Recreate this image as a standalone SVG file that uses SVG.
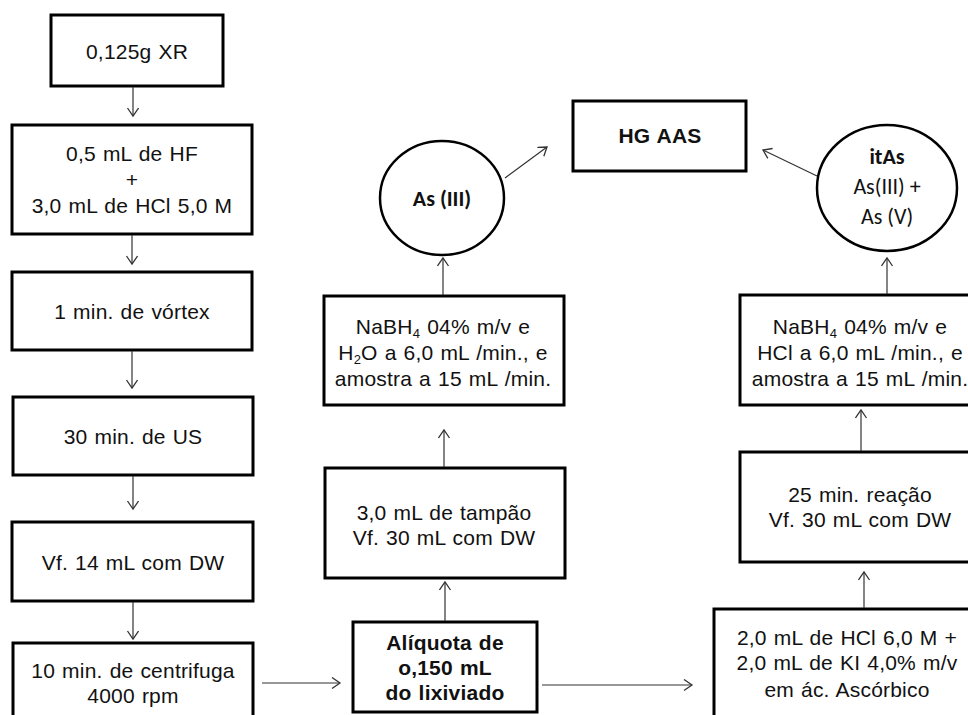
<svg xmlns="http://www.w3.org/2000/svg" width="968" height="715" viewBox="0 0 968 715">
<style>
.box{fill:#fff;stroke:#000;stroke-width:3}
.circ{fill:#fff;stroke:#000;stroke-width:2.5}
.t{font-family:"Liberation Sans",Arial,sans-serif;font-size:21px;fill:#111;text-anchor:middle;letter-spacing:0.2px;word-spacing:1px}
.b{font-weight:bold}
.c{font-family:Carlito,Lato,"Liberation Sans",sans-serif;font-size:22px;fill:#111;text-anchor:middle}
.sub{font-size:13px}
.conn line{stroke:#333;stroke-width:1.2;fill:none;marker-end:url(#ah)}
</style>
<defs>
<marker id="ah" markerUnits="userSpaceOnUse" markerWidth="12" markerHeight="14" refX="9" refY="6" orient="auto">
<path d="M1,0.5 L9,6 L1,11.5" fill="none" stroke="#333" stroke-width="1.3"/>
</marker>
</defs>
<rect width="968" height="715" fill="#fff"/>
<g id="n1"><rect class="box" x="51" y="15" width="172" height="71"/><text class="t" x="137" y="59">0,125g XR</text></g>
<g id="n2"><rect class="box" x="12" y="125" width="240" height="109"/><text class="t" x="132" y="161">0,5 mL de HF</text><text class="t" x="132" y="187">+</text><text class="t" x="132" y="213">3,0 mL de HCl  5,0 M</text></g>
<g id="n3"><rect class="box" x="12" y="272" width="240" height="78"/><text class="t" x="132" y="319">1 min. de vórtex</text></g>
<g id="n4"><rect class="box" x="13" y="397" width="240" height="78"/><text class="t" x="133" y="444">30 min. de US</text></g>
<g id="n5"><rect class="box" x="12" y="522" width="241" height="79"/><text class="t" x="133" y="570">Vf. 14 mL com DW</text></g>
<g id="n6"><rect class="box" x="13" y="643" width="240" height="100"/><text class="t" x="133" y="678">10 min. de centrifuga</text><text class="t" x="133" y="703">4000 rpm</text></g>
<g id="n7"><rect class="box" x="353" y="622" width="184" height="90"/><text class="t b" x="445" y="650">Alíquota de</text><text class="t b" x="445" y="675">o,150 mL</text><text class="t b" x="445" y="700">do lixiviado</text></g>
<g id="n8"><rect class="box" x="325" y="468" width="240" height="110"/><text class="t" x="444" y="520">3,0 mL de tampão</text><text class="t" x="444" y="545">Vf. 30 mL com DW</text></g>
<g id="n9"><rect class="box" x="324" y="296" width="240" height="109"/><text class="t" x="443" y="334">NaBH<tspan class="sub" dy="4">4</tspan><tspan dy="-4"> 04% m/v e</tspan></text><text class="t" x="443" y="360">H<tspan class="sub" dy="4">2</tspan><tspan dy="-4">O a 6,0 mL /min., e</tspan></text><text class="t" x="443" y="386">amostra a 15 mL /min.</text></g>
<g id="n10"><ellipse class="circ" cx="442" cy="198" rx="62" ry="57"/><text class="c b" x="442" y="206">As (III)</text></g>
<g id="n11"><rect class="box" x="573" y="101" width="173" height="70"/><text class="t b" x="660" y="143">HG AAS</text></g>
<g id="n12"><ellipse class="circ" cx="887" cy="188" rx="70" ry="63"/><text class="c b" x="887" y="164">itAs</text><text class="c" x="887" y="194">As(III) +</text><text class="c" x="887" y="224">As (V)</text></g>
<g id="n13"><rect class="box" x="740" y="295" width="260" height="110"/><text class="t" x="860" y="334">NaBH<tspan class="sub" dy="4">4</tspan><tspan dy="-4"> 04% m/v e</tspan></text><text class="t" x="860" y="360">HCl a 6,0 mL /min., e</text><text class="t" x="860" y="386">amostra a 15 mL /min.</text></g>
<g id="n14"><rect class="box" x="740" y="452" width="260" height="110"/><text class="t" x="860" y="502">25 min. reação</text><text class="t" x="860" y="527">Vf. 30 mL com DW</text></g>
<g id="n15"><rect class="box" x="714" y="609" width="280" height="120"/><text class="t" x="847" y="645">2,0 mL de HCl 6,0 M +</text><text class="t" x="847" y="670">2,0 mL de KI 4,0% m/v</text><text class="t" x="847" y="697">em ác. Ascórbico</text></g>
<g id="connectors" class="conn">
<line x1="133" y1="87" x2="133" y2="116"/>
<line x1="132" y1="235" x2="132" y2="264"/>
<line x1="132" y1="351" x2="132" y2="388"/>
<line x1="133" y1="476" x2="133" y2="509"/>
<line x1="133" y1="602" x2="133" y2="639"/>
<line x1="262" y1="683" x2="340" y2="683"/>
<line x1="445" y1="621" x2="445" y2="582"/>
<line x1="444" y1="467" x2="444" y2="430"/>
<line x1="443" y1="295" x2="443" y2="258"/>
<line x1="505" y1="178" x2="547" y2="147"/>
<line x1="542" y1="685" x2="692" y2="685"/>
<line x1="864" y1="608" x2="864" y2="572"/>
<line x1="861" y1="451" x2="861" y2="410"/>
<line x1="887" y1="294" x2="887" y2="258"/>
<line x1="817" y1="176" x2="763" y2="150"/>
</g>
</svg>
